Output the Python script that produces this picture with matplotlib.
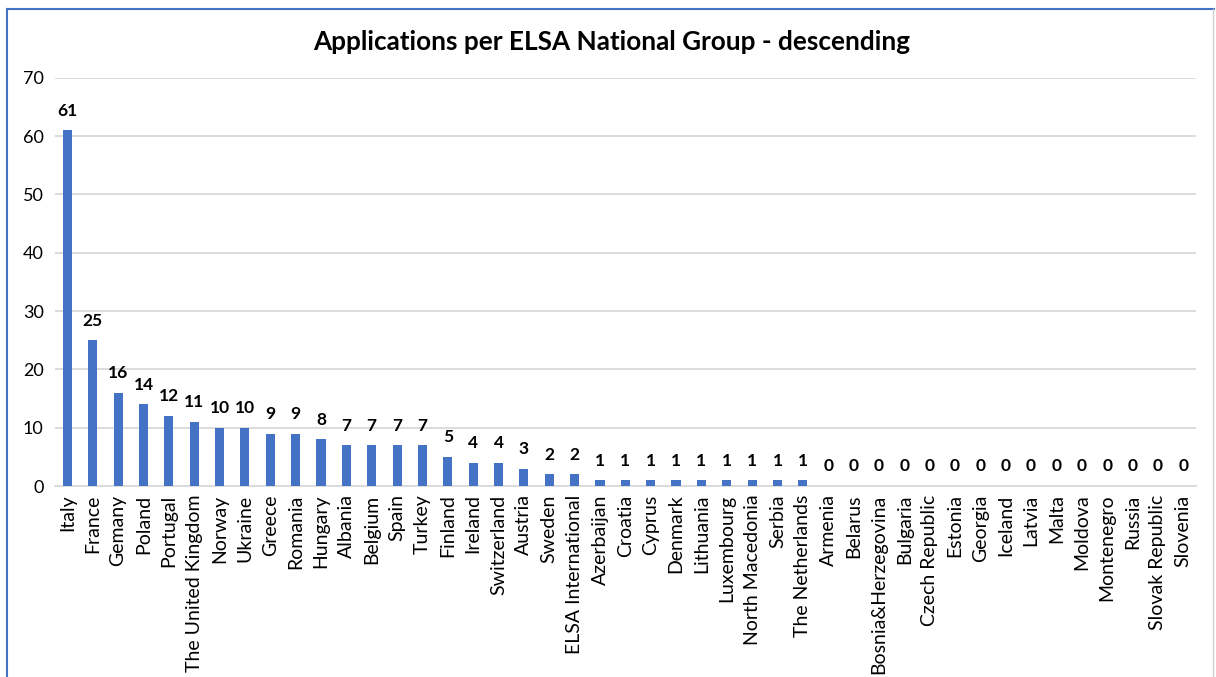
import matplotlib

matplotlib.use("Agg")

import matplotlib.pyplot as plt
from matplotlib.lines import Line2D

countries = ["Italy", "France", "Gemany", "Poland", "Portugal", "The United Kingdom",
             "Norway", "Ukraine", "Greece", "Romania", "Hungary", "Albania", "Belgium",
             "Spain", "Turkey", "Finland", "Ireland", "Switzerland", "Austria", "Sweden",
             "ELSA International", "Azerbaijan", "Croatia", "Cyprus", "Denmark",
             "Lithuania", "Luxembourg", "North Macedonia", "Serbia", "The Netherlands",
             "Armenia", "Belarus", "Bosnia&Herzegovina", "Bulgaria", "Czech Republic",
             "Estonia", "Georgia", "Iceland", "Latvia", "Malta", "Moldova", "Montenegro",
             "Russia", "Slovak Republic", "Slovenia"]
applications = [61, 25, 16, 14, 12, 11, 10, 10, 9, 9, 8, 7, 7, 7, 7, 5, 4, 4, 3, 2, 2,
                1, 1, 1, 1, 1, 1, 1, 1, 1,
                0, 0, 0, 0, 0, 0, 0, 0, 0, 0, 0, 0, 0, 0, 0]
yticks = [0, 10, 20, 30, 40, 50, 60, 70]

plt.rcParams['font.family'] = ['Lato', 'DejaVu Sans']

fig = plt.figure(figsize=(12.16, 6.77), dpi=100)
ax = fig.add_axes([0.045, 0.282, 0.9385, 0.603])

x = range(len(countries))
ax.bar(x, applications, width=0.36, color="#4472c4", zorder=3)
for i, v in enumerate(applications):
    ax.text(i, v + 2.0, str(v), ha="center", va="bottom", fontsize=12.5,
            fontweight="bold", color="black")

ax.set_xlim(-0.5, len(countries) - 0.5)
ax.set_ylim(0, 70)
ax.set_yticks(yticks)
ax.set_xticks(list(x))
ax.set_xticklabels(countries, rotation=90, fontsize=14)
ax.tick_params(axis="y", labelsize=13, length=0, pad=8)
ax.tick_params(axis="x", length=0, pad=6)
ax.grid(axis="y", color="#d9d9d9", linewidth=1.3, zorder=0)
for s in ["top", "right", "left"]:
    ax.spines[s].set_visible(False)
ax.spines["bottom"].set_color("#d9d9d9")
ax.spines["bottom"].set_linewidth(1.3)

fig.text(0.503, 0.938, "Applications per ELSA National Group - descending",
         ha="center", va="center", fontsize=18.8, fontweight="bold")

# chart frame
fig.add_artist(Line2D([0.0058, 0.0058], [0.0, 0.987], color="#4472c4", linewidth=1.5))
fig.add_artist(Line2D([0.0058, 0.998], [0.987, 0.987], color="#4472c4", linewidth=1.5))
fig.add_artist(Line2D([0.9975, 0.9975], [0.0, 0.987], color="#d0d0d0", linewidth=1))

fig.savefig("out.png", dpi=100)
